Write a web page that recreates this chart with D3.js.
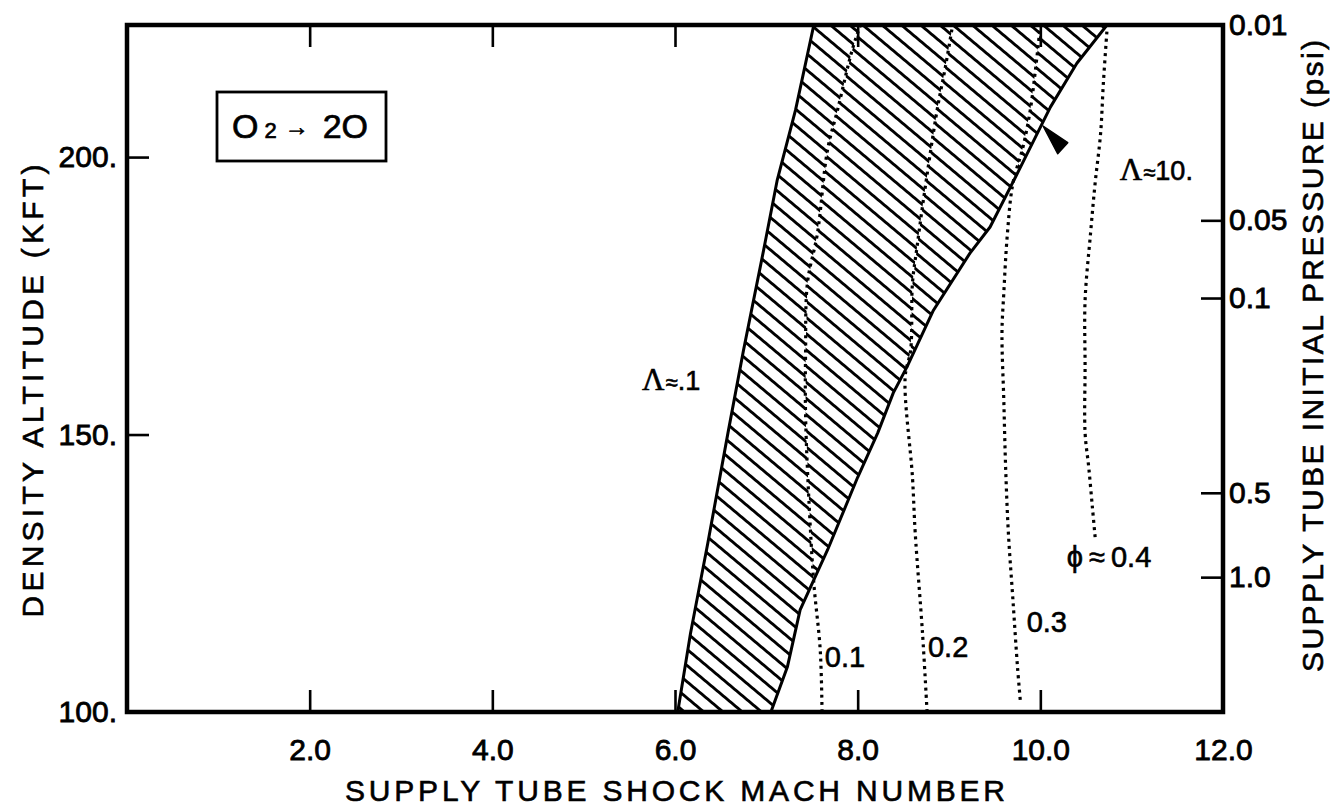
<!DOCTYPE html>
<html>
<head>
<meta charset="utf-8">
<script src="https://cdn.jsdelivr.net/npm/d3@7"></script>
<style>
  html, body { margin: 0; padding: 0; background: #fff; }
  svg { display: block; font-family: "Liberation Sans", Arial, Helvetica, sans-serif; }
  text { fill: #000; }
</style>
</head>
<body>
<svg id="chart" width="1336" height="809"></svg>
<script>
// ---- axis ticks ----
const machTicks = [2, 4, 6, 8, 10, 12];
const machTickLabels = ["2.0", "4.0", "6.0", "8.0", "10.0", "12.0"];
const altTicks = [100, 150, 200];
const altTickLabels = ["100.", "150.", "200."];
// supply tube initial pressure (psi) and the density altitude (kft) it corresponds to
const pressureValues = [0.01, 0.05, 0.1, 0.5, 1.0];
const pressureLabels = ["0.01", "0.05", "0.1", "0.5", "1.0"];
const pressureAlt = [223.8, 188.6, 174.6, 139.5, 124.3];

// ---- boundary of the hatched band: Lambda ~ 0.1 (left) and Lambda ~ 10 (right) ----
const lambdaLowMach = [6.03, 6.17, 6.36, 6.58, 6.75, 6.97, 7.12, 7.32, 7.52];
const lambdaLowAlt  = [100.0, 114.2, 130.5, 150.3, 165.2, 183.2, 195.9, 208.5, 223.8];
const lambdaHighMach = [7.05, 7.23, 7.37, 7.67, 8.00, 8.22, 8.39, 8.54, 8.83, 9.23, 9.45, 9.75, 10.11, 10.40, 10.73];
const lambdaHighAlt  = [100.0, 108.1, 118.4, 129.2, 142.3, 150.3, 157.5, 162.2, 172.4, 182.7, 187.4, 197.1, 209.0, 216.9, 223.8];

// ---- constant-phi contours (dotted) ----
const phi01Mach = [7.61, 7.59, 7.52, 7.47, 7.43, 7.43, 7.45, 7.56, 7.67, 7.78, 7.94, 8.03];
const phi01Alt  = [100.0, 111.2, 123.2, 136.9, 153.2, 165.2, 177.3, 186.3, 201.3, 208.5, 219.3, 223.8];
const phi02Mach = [8.76, 8.71, 8.63, 8.60, 8.52, 8.58, 8.60, 8.65, 8.72, 8.87, 8.96, 9.04];
const phi02Alt  = [100.0, 114.2, 132.3, 142.3, 160.4, 165.2, 177.3, 183.8, 192.3, 208.5, 216.2, 223.8];
const phi03Mach = [9.78, 9.75, 9.70, 9.65, 9.62, 9.60, 9.58, 9.60, 9.64, 9.70, 9.81, 9.89, 9.95, 10.00];
const phi03Alt  = [102.2, 108.1, 120.2, 132.3, 144.1, 156.2, 168.3, 175.5, 186.3, 195.3, 201.8, 208.5, 216.2, 223.8];
const phi04Mach = [10.60, 10.57, 10.53, 10.49, 10.49, 10.49, 10.55, 10.60, 10.66, 10.69, 10.73];
const phi04Alt  = [131.5, 136.9, 144.1, 150.3, 162.2, 174.2, 186.3, 195.3, 204.3, 213.3, 222.9];

// arrowhead pointing at the Lambda ~ 10 boundary
const arrowMach = [10.03, 10.30, 10.19];
const arrowAlt  = [205.6, 202.6, 200.6];

// text annotations (Mach, altitude): optional Greek symbol, optional "approximately", value
const annotations = [
  { greek: "\u039B", approx: true,  value: ".1",  mach: 5.64,  alt: 158.0 },
  { greek: "\u039B", approx: true,  value: "10.", mach: 10.87, alt: 195.9 },
  { greek: "",       approx: false, value: "0.1", mach: 7.64,  alt: 108.1 },
  { greek: "",       approx: false, value: "0.2", mach: 8.77,  alt: 109.9 },
  { greek: "",       approx: false, value: "0.3", mach: 9.85,  alt: 114.4 },
  { greek: "\u03D5", approx: true,  value: "0.4", mach: 10.29, alt: 126.1 }
];

const zip = (a, b) => a.map((v, i) => [v, b[i]]);

const svg = d3.select("#chart");
const x = d3.scaleLinear().domain([0, 12]).range([127, 1223]);
const y = d3.scaleLinear().domain([100, 223.8]).range([712, 25]);
const [x0, x1] = x.range();
const [y0, y1] = y.range();

const line = d3.line().x(d => x(d[0])).y(d => y(d[1]));
const smooth = d3.line().x(d => x(d[0])).y(d => y(d[1])).curve(d3.curveCatmullRom.alpha(0.5));

const defs = svg.append("defs");

// hatch patterns, one per band between phi contours (slight offsets at the contours)
const bandShift = [0, 4, 8, 12];
bandShift.forEach((s, i) => {
  const p = defs.append("pattern")
    .attr("id", "hatch" + i)
    .attr("patternUnits", "userSpaceOnUse")
    .attr("width", 40).attr("height", 12.4)
    .attr("patternTransform", `rotate(40) translate(0,${s})`);
  p.append("line")
    .attr("x1", 0).attr("x2", 40).attr("y1", 6.2).attr("y2", 6.2)
    .attr("stroke", "#000").attr("stroke-width", 2.8);
});

const lowPts = zip(lambdaLowMach, lambdaLowAlt);
const highPts = zip(lambdaHighMach, lambdaHighAlt);
const bandPoly = lowPts.concat(highPts.slice().reverse());

defs.append("clipPath").attr("id", "hatchClip")
  .append("path").attr("d", line(bandPoly) + "Z");
defs.append("clipPath").attr("id", "plotClip")
  .append("rect").attr("x", x0).attr("y", y1).attr("width", x1 - x0).attr("height", y0 - y1);

// extend a contour past the plot edges so it can split the hatched band
const extend = pts => [[pts[0][0], 90]].concat(pts, [[pts[pts.length - 1][0], 235]]);
const c1 = extend(zip(phi01Mach, phi01Alt));
const c2 = extend(zip(phi02Mach, phi02Alt));
const c3 = extend(zip(phi03Mach, phi03Alt));
const leftEdge = [[-1, 90], [-1, 235]];
const rightEdge = [[13, 90], [13, 235]];
const bands = [
  [leftEdge, c1],
  [c1, c2],
  [c2, c3],
  [c3, rightEdge]
];

const hatchG = svg.append("g").attr("clip-path", "url(#hatchClip)");
bands.forEach((b, i) => {
  const poly = b[0].concat(b[1].slice().reverse());
  hatchG.append("path")
    .attr("d", line(poly) + "Z")
    .attr("fill", `url(#hatch${i})`);
});

// band boundaries
[lowPts, highPts].forEach(pts => {
  svg.append("path")
    .attr("d", line(pts))
    .attr("fill", "none").attr("stroke", "#000")
    .attr("stroke-width", 3).attr("stroke-linejoin", "round")
    .attr("clip-path", "url(#plotClip)");
});

// dotted phi contours
[[phi01Mach, phi01Alt], [phi02Mach, phi02Alt], [phi03Mach, phi03Alt], [phi04Mach, phi04Alt]].forEach(([m, a]) => {
  svg.append("path")
    .attr("d", smooth(zip(m, a)))
    .attr("fill", "none").attr("stroke", "#000")
    .attr("stroke-width", 3.2)
    .attr("stroke-dasharray", "3 4.2")
    .attr("clip-path", "url(#plotClip)");
});

// arrowhead
svg.append("path")
  .attr("d", line(zip(arrowMach, arrowAlt)) + "Z")
  .attr("fill", "#000").attr("stroke", "#000").attr("stroke-width", 1.5)
  .attr("stroke-linejoin", "round");

// ---- axes (ticks point inward) ----
const tickLen = 22;
const isInner = (d, dom) => d > dom[0] && d < dom[1];

const axisBottomG = svg.append("g").attr("transform", `translate(0,${y0})`)
  .call(d3.axisBottom(x).tickValues(machTicks).tickSizeInner(-tickLen).tickSizeOuter(0)
    .tickPadding(tickLen + 5).tickFormat((d, i) => machTickLabels[i]));
const axisTopG = svg.append("g").attr("transform", `translate(0,${y1})`)
  .call(d3.axisTop(x).tickValues(machTicks.filter(d => isInner(d, x.domain())))
    .tickSizeInner(-tickLen).tickSizeOuter(0).tickFormat(""));
const axisLeftG = svg.append("g").attr("transform", `translate(${x0},0)`)
  .call(d3.axisLeft(y).tickValues(altTicks).tickSizeInner(-tickLen).tickSizeOuter(0)
    .tickPadding(10).tickFormat((d, i) => altTickLabels[i]));
const axisRightG = svg.append("g").attr("transform", `translate(${x1},0)`)
  .call(d3.axisRight(y).tickValues(pressureAlt).tickSizeInner(-tickLen).tickSizeOuter(0)
    .tickPadding(6).tickFormat((d, i) => pressureLabels[i]));

[axisBottomG, axisTopG, axisLeftG, axisRightG].forEach(g => {
  g.attr("font-size", null).attr("font-family", null);
  g.select(".domain").remove();
  g.selectAll(".tick line").attr("stroke", "#000").attr("stroke-width", 2.6);
  g.selectAll(".tick text")
    .style("font-family", "'Liberation Sans', Arial, sans-serif")
    .style("font-size", "30px").attr("fill", "#000")
    .attr("stroke", "#000").attr("stroke-width", 0.8);
});
// no tick marks at the frame corners
axisBottomG.selectAll(".tick").filter(d => !isInner(d, x.domain())).select("line").remove();
axisLeftG.selectAll(".tick").filter(d => !isInner(d, y.domain())).select("line").remove();
axisRightG.selectAll(".tick").filter(d => !isInner(d, y.domain())).select("line").remove();

// frame
svg.append("rect")
  .attr("x", x0).attr("y", y1).attr("width", x1 - x0).attr("height", y0 - y1)
  .attr("fill", "none").attr("stroke", "#000").attr("stroke-width", 4.5);

// ---- axis titles ----
const titleStyle = t => t.style("font-size", "30px")
  .attr("lengthAdjust", "spacing")
  .attr("stroke", "#000").attr("stroke-width", 0.6)
  .attr("text-anchor", "middle");

svg.append("text").call(titleStyle)
  .attr("x", 675).attr("y", 801)
  .attr("textLength", 660)
  .text("SUPPLY TUBE SHOCK MACH NUMBER");

svg.append("text").call(titleStyle)
  .attr("transform", "translate(43,391) rotate(-90)")
  .attr("textLength", 453)
  .text("DENSITY ALTITUDE (KFT)");

svg.append("text").call(titleStyle)
  .attr("transform", "translate(1323,356) rotate(-90)")
  .attr("textLength", 632)
  .text("SUPPLY TUBE INITIAL PRESSURE (psi)");

// ---- reaction box ----
const box = svg.append("g").attr("transform", "translate(217,92)");
box.append("rect").attr("width", 169).attr("height", 69)
  .attr("fill", "#fff").attr("stroke", "#000").attr("stroke-width", 2.8);
const rx = box.append("text").attr("x", 15).attr("y", 46)
  .style("font-size", "34px").attr("stroke", "#000").attr("stroke-width", 0.7);
rx.append("tspan").text("O");
rx.append("tspan").style("font-size", "22px").attr("dx", 6).text("2");
rx.append("tspan").style("font-size", "24px").attr("dx", 8).attr("dy", -3).text("\u2192");
rx.append("tspan").attr("dx", 14).attr("dy", 3).text("2O");

// ---- annotations ----
const ann = svg.append("g").selectAll("text").data(annotations).join("text")
  .attr("x", d => x(d.mach)).attr("y", d => y(d.alt))
  .style("font-size", "29px").attr("stroke", "#000").attr("stroke-width", 0.6);
ann.filter(d => d.greek).append("tspan")
  .style("font-family", d => d.greek === "\u039B" ? "'Liberation Serif', 'DejaVu Serif', serif" : null)
  .style("font-size", d => d.greek === "\u039B" ? "31px" : null)
  .text(d => d.greek);
ann.filter(d => d.approx).append("tspan")
  .style("font-size", d => d.greek === "\u039B" ? "22px" : null)
  .attr("dx", d => d.greek === "\u039B" ? 1 : 6)
  .text("\u2248");
ann.append("tspan")
  .attr("dx", d => d.greek === "\u03D5" ? 6 : 0)
  .style("font-size", d => d.greek === "\u039B" ? "27px" : null)
  .text(d => d.value);
</script>
</body>
</html>
